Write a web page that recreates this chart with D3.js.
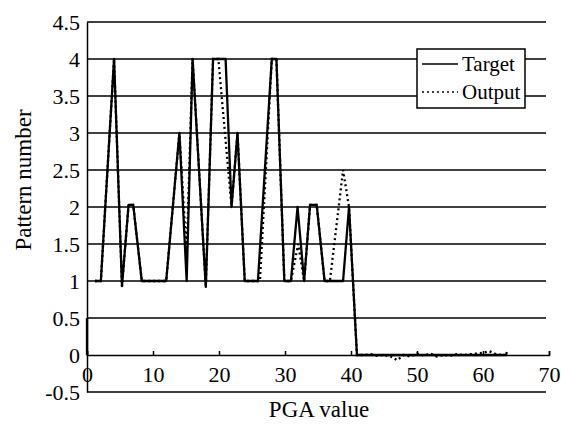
<!DOCTYPE html>
<html>
<head>
<meta charset="utf-8">
<script src="https://cdn.jsdelivr.net/npm/d3@7"></script>
<style>
  html, body { margin: 0; padding: 0; background: #fff; }
  svg { display: block; }
</style>
</head>
<body>
<svg id="chart" width="561" height="429"></svg>
<script>
// ---- data ----
const targetX = [0, 0, 0.6, 1.2, 2.1, 4.1, 5.3, 6.3, 7.0, 8.3, 12.0, 14.0, 15.1, 16.0, 18.0, 19.1, 21.0, 21.9, 22.8, 23.9, 25.9, 28.0, 28.7, 29.9, 30.9, 31.9, 32.9, 33.8, 34.8, 36.0, 38.8, 39.7, 40.9, 63.5, 63.6];
const targetY = [0, 0.5, null, 1, 1, 4, 0.93, 2.03, 2.03, 1, 1, 3, 1, 4, 0.92, 4, 4, 2, 3, 1, 1, 4, 4, 1, 1, 2, 1, 2.03, 2.03, 1, 1, 2, 0, 0, 0.04];

const outputX = [1.2, 2.1, 4.1, 5.3, 6.3, 7.0, 8.3, 12.0, 14.0, 15.1, 16.0, 18.0, 19.1, 19.9, 21.9, 22.8, 23.9, 26.2, 28.0, 28.7, 29.9, 30.9, 32.0, 32.9, 33.8, 34.8, 36.0, 36.8, 38.8, 39.7, 40.9, 42, 43, 44, 45, 46, 47, 48, 49, 50, 51, 52, 53, 54, 55, 56, 57, 58, 59, 60, 61, 62, 63];
const outputY = [1, 1, 4, 0.93, 2.03, 2.03, 1, 1, 3, 1.35, 4, 0.92, 4, 4, 2, 3, 1, 1, 4, 4, 1, 1, 1.5, 1, 2.03, 2.03, 1, 1, 2.5, 2, 0, 0, 0.01, -0.01, 0, -0.02, -0.07, 0, -0.02, 0.02, -0.01, 0.02, -0.02, 0, -0.01, 0.01, 0, 0.01, 0.02, 0.03, 0.05, 0.01, 0];

const xTicks = [0, 10, 20, 30, 40, 50, 60, 70];
const yTicks = [-0.5, 0, 0.5, 1, 1.5, 2, 2.5, 3, 3.5, 4, 4.5];
const xTitle = "PGA value";
const yTitle = "Pattern number";
const seriesNames = ["Target", "Output"];

// ---- chart ----
const FONT = "'Liberation Serif', 'DejaVu Serif', 'Times New Roman', serif";
const svg = d3.select("#chart");
const x = d3.scaleLinear().domain([0, 70]).range([87, 549]);
const y = d3.scaleLinear().domain([-0.5, 4.5]).range([392, 22]);

// gridlines
svg.append("g").selectAll("line")
  .data(yTicks.filter(v => v !== 0))
  .join("line")
  .attr("x1", x(0)).attr("x2", x(70) - 3)
  .attr("y1", d => y(d)).attr("y2", d => y(d))
  .attr("stroke", "#000").attr("stroke-width", 1.5);

// y axis
const yAxis = svg.append("g")
  .attr("transform", `translate(${x(0)},0)`)
  .call(d3.axisLeft(y).tickValues(yTicks).tickSize(0).tickPadding(7)
        .tickFormat(d => String(d)));
yAxis.attr("font-family", FONT).attr("font-size", 22);
yAxis.select(".domain").attr("stroke", "#000").attr("stroke-width", 1.5);
yAxis.selectAll("text").attr("fill", "#000");

// x axis at y = 0
const xAxis = svg.append("g")
  .attr("transform", `translate(0,${y(0)})`)
  .call(d3.axisBottom(x).tickValues(xTicks).tickSize(-4).tickPadding(11)
        .tickFormat(d3.format("d")));
xAxis.attr("font-family", FONT).attr("font-size", 22);
xAxis.select(".domain").attr("stroke", "#000").attr("stroke-width", 1.5);
xAxis.selectAll(".tick line").attr("stroke", "#000").attr("stroke-width", 1.5);
xAxis.selectAll("text").attr("fill", "#000");

// series
const targetData = targetX.map((v, i) => ({x: v, y: targetY[i]}));
const outputData = outputX.map((v, i) => ({x: v, y: outputY[i]}));
const line = d3.line().defined(d => d.y !== null).x(d => x(d.x)).y(d => y(d.y));

svg.append("path").datum(outputData)
  .attr("d", line).attr("fill", "none")
  .attr("stroke", "#000").attr("stroke-width", 2.3)
  .attr("stroke-dasharray", "2,3");

svg.append("path").datum(targetData)
  .attr("d", line).attr("fill", "none")
  .attr("stroke", "#000").attr("stroke-width", 2.3)
  .attr("stroke-linejoin", "round");

// titles
svg.append("text")
  .attr("x", (x(0) + x(70)) / 2 + 1).attr("y", 417)
  .attr("text-anchor", "middle")
  .attr("font-family", FONT).attr("font-size", 23)
  .text(xTitle);
svg.append("text")
  .attr("transform", `translate(31,${(y(-0.5) + y(4.5)) / 2 - 27}) rotate(-90)`)
  .attr("text-anchor", "middle")
  .attr("font-family", FONT).attr("font-size", 23)
  .text(yTitle);

// legend
const lg = svg.append("g").attr("transform", "translate(417,49)");
lg.append("rect").attr("width", 108).attr("height", 59)
  .attr("fill", "#fff").attr("stroke", "#000").attr("stroke-width", 1.5);
const dashes = [null, "2,3"];
seriesNames.forEach((name, i) => {
  const ly = 15 + i * 28;
  lg.append("line").attr("x1", 5).attr("x2", 41).attr("y1", ly).attr("y2", ly)
    .attr("stroke", "#000").attr("stroke-width", 1.5)
    .attr("stroke-dasharray", dashes[i]);
  lg.append("text").attr("x", 45).attr("y", ly + 7)
    .attr("font-family", FONT).attr("font-size", 21).text(name);
});
</script>
</body>
</html>
